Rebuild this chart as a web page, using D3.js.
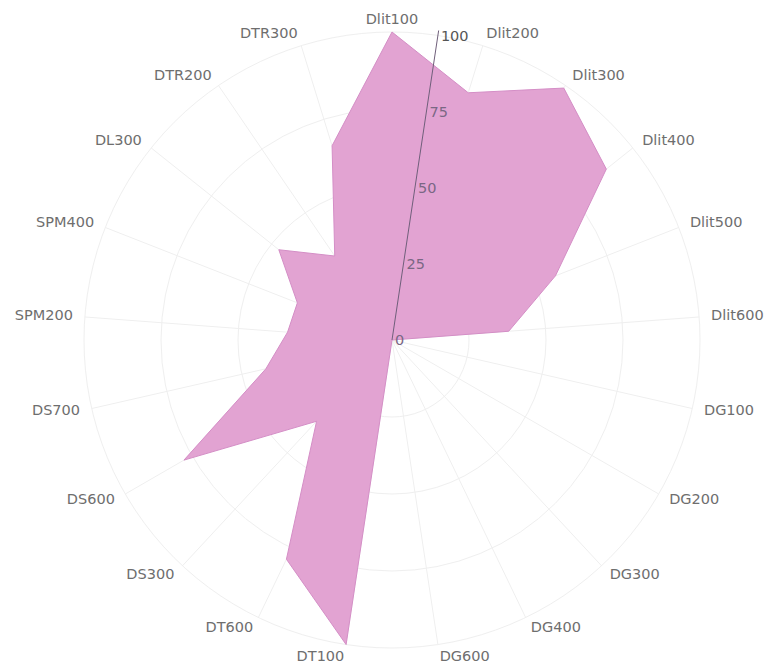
<!DOCTYPE html>
<html>
<head>
<meta charset="utf-8">
<script src="https://cdn.jsdelivr.net/npm/d3@7"></script>
<style>
  body { margin: 0; background: #fff; }
  .grid { fill: none; stroke: #efefef; stroke-width: 1; }
  .cat-label { font-family: "DejaVu Sans", sans-serif; font-size: 14.5px; fill: #6e6e6e; }
  .tick-label { font-family: "DejaVu Sans", sans-serif; font-size: 14.5px; fill: #7a6784; }
</style>
</head>
<body>
<div id="div-grafico"></div>
<script>
// categories, clockwise from the top
var categories = ["Dlit100", "Dlit200", "Dlit300", "Dlit400", "Dlit500", "Dlit600",
    "DG100", "DG200", "DG300", "DG400", "DG600",
    "DT100", "DT600", "DS300", "DS600", "DS700",
    "SPM200", "SPM400", "DL300", "DTR200", "DTR300"];

// values (0 - 100)
var values = [100, 84, 99, 89, 57, 38,
    0, 0, 0, 0, 0,
    100, 79, 36, 78, 42,
    34, 33, 47, 33, 66];

// radial axis ticks
var tickValues = [0, 25, 50, 75, 100];

// set the dimensions of the graph
var width = 769, height = 668;
var cx = 392, cy = 340;
var radius = 308;

var step = 2 * Math.PI / categories.length;

// set the ranges
var r = d3.scaleLinear().domain([0, 100]).range([0, radius]);
var angle = d3.scaleLinear().domain([0, categories.length]).range([0, 2 * Math.PI]);

var svg = d3.select("#div-grafico").append("svg")
    .attr("width", width)
    .attr("height", height)
    .append("g")
    .attr("transform", "translate(" + cx + "," + cy + ")");

// grid circles
svg.selectAll("circle.grid")
    .data(tickValues.slice(1))
    .enter().append("circle")
    .attr("class", "grid")
    .attr("r", function (d) { return r(d); });

// spokes
svg.selectAll("line.spoke")
    .data(categories)
    .enter().append("line")
    .attr("class", "grid")
    .attr("x1", 0).attr("y1", 0)
    .attr("x2", function (d, i) { return Math.sin(angle(i)) * r(100); })
    .attr("y2", function (d, i) { return -Math.cos(angle(i)) * r(100); });

// the area
var radarLine = d3.lineRadial()
    .angle(function (d, i) { return angle(i); })
    .radius(function (d) { return r(d); })
    .curve(d3.curveLinearClosed);

svg.append("path")
    .datum(values)
    .attr("d", radarLine)
    .attr("fill", "#e2a3d2")
    .attr("stroke", "#d48ec6")
    .attr("stroke-width", 1);

// category labels
svg.selectAll("text.cat-label")
    .data(categories)
    .enter().append("text")
    .attr("class", "cat-label")
    .attr("x", function (d, i) { return Math.sin(angle(i)) * (radius + 12); })
    .attr("y", function (d, i) { return -Math.cos(angle(i)) * (radius + 12) - 1; })
    .attr("dy", "0.35em")
    .attr("text-anchor", function (d, i) {
        var s = Math.sin(angle(i));
        return s > 0.1 ? "start" : (s < -0.1 ? "end" : "middle");
    })
    .text(function (d) { return d; });

// radial axis, half a step right of the first category
var axisAngle = step / 2;
svg.append("line")
    .attr("x1", 0).attr("y1", 0)
    .attr("x2", Math.sin(axisAngle) * (radius + 5))
    .attr("y2", -Math.cos(axisAngle) * (radius + 5))
    .attr("stroke", "#6f5f7a")
    .attr("stroke-width", 1);

svg.selectAll("text.tick-label")
    .data(tickValues)
    .enter().append("text")
    .attr("class", "tick-label")
    .attr("x", function (d) { return Math.sin(axisAngle) * r(d) + 3; })
    .attr("y", function (d) { return -Math.cos(axisAngle) * r(d); })
    .attr("dy", "0.35em")
    .style("fill", function (d) { return d === 100 ? "#555" : null; })
    .text(function (d) { return d; });
</script>
</body>
</html>
